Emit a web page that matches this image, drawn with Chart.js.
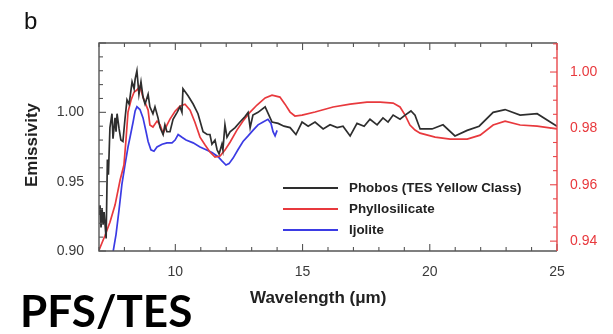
<!DOCTYPE html>
<html><head><meta charset="utf-8">
<script src="https://cdn.jsdelivr.net/npm/chart.js@4/dist/chart.umd.min.js"></script>
<style>
html,body{margin:0;padding:0;background:#fff;}
#wrap{position:relative;width:613px;height:334px;overflow:hidden;font-family:"Liberation Sans",Arial,sans-serif;}
#c{position:absolute;left:0;top:0;}
.t{position:absolute;white-space:nowrap;line-height:1;}
.sw{position:absolute;height:2px;}
</style></head><body>
<div id="wrap">
<canvas id="c" width="613" height="334"></canvas>
<div class="t" style="left:24px;top:9px;font-size:24px;color:#111;">b</div>
<div class="t" style="left:31px;top:145px;font-size:17px;font-weight:bold;color:#222;transform:translate(-50%,-50%) rotate(-90deg);">Emissivity</div>
<div class="t" style="left:250px;top:289px;font-size:17px;font-weight:bold;color:#222;">Wavelength (μm)</div>
<div class="t" style="left:20px;top:288px;font-size:44px;font-weight:bold;color:#000;font-family:Lato,'Open Sans',sans-serif;">PFS/TES</div>
<div id="legend"></div>
</div>
<script>
// ---- data ----
const phobosWl = [7.00,7.04,7.08,7.12,7.16,7.20,7.28,7.33,7.37,7.43,7.51,7.55,7.63,7.67,7.71,7.79,7.86,7.94,8.02,8.10,8.18,8.22,8.30,8.38,8.42,8.49,8.57,8.65,8.73,8.81,8.93,9.00,9.12,9.20,9.32,9.40,9.52,9.59,9.67,9.79,9.91,10.07,10.18,10.26,10.30,10.50,10.70,10.89,11.09,11.25,11.36,11.44,11.56,11.64,11.72,11.83,11.87,11.95,12.03,12.15,12.35,12.54,12.74,12.86,12.94,13.05,13.25,13.53,13.80,14.04,14.27,14.51,14.74,14.98,15.22,15.49,15.81,16.08,16.36,16.59,16.87,17.14,17.42,17.65,17.93,18.16,18.36,18.56,18.83,19.03,19.26,19.42,19.62,20.09,20.52,20.99,21.47,21.94,22.49,22.96,23.55,24.22,25.00];
const phobosEm = [0.926,0.933,0.917,0.931,0.919,0.928,0.909,0.966,0.955,0.989,0.999,0.981,0.996,0.986,0.999,0.988,0.980,0.979,0.995,1.009,1.006,1.011,1.022,1.017,1.024,1.030,1.013,1.022,1.011,1.006,1.013,1.004,0.999,1.004,0.996,0.989,0.984,0.991,0.986,0.986,0.995,1.000,1.004,1.000,1.017,1.012,1.006,0.999,0.986,0.984,0.984,0.977,0.980,0.973,0.970,0.977,0.973,0.991,0.982,0.986,0.989,0.993,0.997,1.000,0.989,0.998,1.000,1.004,0.993,0.992,0.990,0.989,0.984,0.993,0.990,0.993,0.988,0.991,0.989,0.990,0.983,0.992,0.990,0.995,0.991,0.996,0.993,0.998,0.995,0.998,1.001,0.998,0.988,0.988,0.991,0.983,0.987,0.990,1.000,1.002,0.998,0.999,0.990];

const phylloWl = [7.00,7.24,7.43,7.63,7.83,7.98,8.06,8.14,8.26,8.38,8.49,8.61,8.73,8.85,8.93,9.00,9.12,9.28,9.40,9.52,9.67,9.79,9.99,10.18,10.38,10.58,10.77,10.97,11.17,11.36,11.56,11.76,11.95,12.15,12.42,12.66,12.94,13.21,13.53,13.80,14.11,14.31,14.51,14.70,14.98,15.49,16.20,16.87,17.53,18.05,18.56,18.83,19.03,19.22,19.42,19.62,20.21,20.80,21.47,21.98,22.49,22.96,23.55,24.22,25.00];
const phylloEm = [0.9368,0.9421,0.9467,0.9528,0.9617,0.9670,0.9759,0.9858,0.9901,0.9929,0.9936,0.9950,0.9911,0.9883,0.9865,0.9812,0.9805,0.9826,0.9812,0.9783,0.9812,0.9833,0.9861,0.9879,0.9886,0.9865,0.9822,0.9769,0.9741,0.9716,0.9698,0.9702,0.9723,0.9751,0.9794,0.9826,0.9858,0.9883,0.9908,0.9918,0.9911,0.9886,0.9858,0.9844,0.9847,0.9858,0.9876,0.9886,0.9893,0.9893,0.9890,0.9876,0.9847,0.9812,0.9794,0.9783,0.9769,0.9762,0.9762,0.9776,0.9812,0.9826,0.9812,0.9808,0.9798];

const ijoliteWl = [7.55,7.67,7.79,7.90,8.02,8.14,8.22,8.34,8.42,8.49,8.61,8.73,8.85,8.93,9.04,9.16,9.28,9.48,9.67,9.87,9.99,10.11,10.26,10.42,10.70,10.97,11.21,11.44,11.68,11.83,11.99,12.11,12.27,12.46,12.66,12.86,13.05,13.25,13.45,13.64,13.76,13.84,13.92,14.00];
const ijoliteEm = [0.899,0.912,0.930,0.948,0.962,0.975,0.982,0.993,1.001,1.004,1.002,0.996,0.986,0.979,0.973,0.972,0.975,0.977,0.978,0.978,0.980,0.984,0.982,0.980,0.978,0.975,0.973,0.971,0.968,0.965,0.962,0.963,0.967,0.973,0.979,0.983,0.987,0.991,0.993,0.995,0.992,0.986,0.983,0.987];

const seriesLabels = ['Phobos (TES Yellow Class)', 'Phyllosilicate', 'Ijolite'];
const xTicks = [10, 15, 20, 25];
const leftTicks = [0.90, 0.95, 1.00];
const rightTicks = [0.94, 0.96, 0.98, 1.00];

// ---- styling ----
const BLACK = '#2e2e2e', RED = '#e8393d', BLUE = '#3b3be4', AXIS = '#555555', RAXIS = '#e8474a';

const pts = (xs, ys) => xs.map((x, i) => ({x: x, y: ys[i]}));

const frameTicks = {
  id: 'frameTicks',
  afterDatasetsDraw(chart) {
    const {ctx, chartArea: {left, right, top, bottom}, scales: {x, y, y2}} = chart;
    const seg = (x1, y1, x2, y2_) => { ctx.beginPath(); ctx.moveTo(x1, y1); ctx.lineTo(x2, y2_); ctx.stroke(); };
    ctx.save();
    ctx.lineWidth = 1.4;
    ctx.strokeStyle = AXIS;
    ctx.beginPath();
    ctx.moveTo(right, top); ctx.lineTo(left, top); ctx.lineTo(left, bottom); ctx.lineTo(right, bottom);
    ctx.stroke();
    ctx.lineWidth = 1.1;
    for (let v = 7; v <= 25; v++) {
      const px = x.getPixelForValue(v);
      const len = (v % 5 === 0) ? 7 : 4;
      seg(px, bottom, px, bottom - len);
      seg(px, top, px, top + len);
    }
    for (let i = 90; i <= 105; i++) {
      const py = y.getPixelForValue(i / 100);
      const len = (i % 5 === 0) ? 7 : 4;
      seg(left, py, left + len, py);
    }
    ctx.strokeStyle = RAXIS;
    ctx.lineWidth = 1.4;
    seg(right, top, right, bottom);
    ctx.lineWidth = 1.1;
    for (let k = 188; k <= 202; k++) {
      const py = y2.getPixelForValue(k * 0.005);
      if (py < top - 0.5 || py > bottom + 0.5) continue;
      const len = (k % 4 === 0) ? 7 : 4;
      seg(right, py, right - len, py);
    }
    ctx.restore();
  }
};

const chart = new Chart(document.getElementById('c'), {
  type: 'line',
  data: {
    datasets: [
      {label: seriesLabels[0], data: pts(phobosWl, phobosEm), borderColor: BLACK, yAxisID: 'y'},
      {label: seriesLabels[1], data: pts(phylloWl, phylloEm), borderColor: RED, yAxisID: 'y2'},
      {label: seriesLabels[2], data: pts(ijoliteWl, ijoliteEm), borderColor: BLUE, yAxisID: 'y'}
    ]
  },
  options: {
    responsive: false,
    animation: false,
    parsing: true,
    elements: {line: {borderWidth: 1.7, tension: 0, fill: false}, point: {radius: 0}},
    layout: {padding: {top: 43, left: 0, right: 0, bottom: 0}},
    plugins: {legend: {display: false}, tooltip: {enabled: false}},
    scales: {
      x: {
        type: 'linear', position: 'bottom', min: 7, max: 25,
        grid: {display: false, drawTicks: false}, border: {display: false},
        afterBuildTicks: s => { s.ticks = xTicks.map(v => ({value: v})); },
        afterFit: s => { s.height = 83; },
        ticks: {padding: 13, color: '#3a3a3a', font: {family: 'Liberation Sans', size: 14}, maxRotation: 0, autoSkip: false,
                callback: v => String(v)}
      },
      y: {
        type: 'linear', position: 'left', min: 0.90, max: 1.05,
        grid: {display: false, drawTicks: false}, border: {display: false},
        afterBuildTicks: s => { s.ticks = leftTicks.map(v => ({value: v})); },
        afterFit: s => { s.width = 99; },
        ticks: {padding: 15, color: '#3a3a3a', font: {family: 'Liberation Sans', size: 14}, autoSkip: false,
                callback: v => Number(v).toFixed(2)}
      },
      y2: {
        type: 'linear', position: 'right', min: 0.9365, max: 1.0103,
        grid: {display: false, drawTicks: false}, border: {display: false},
        afterBuildTicks: s => { s.ticks = rightTicks.map(v => ({value: v})); },
        afterFit: s => { s.width = 56; },
        ticks: {padding: 13, color: RED, font: {family: 'Liberation Sans', size: 14}, autoSkip: false,
                callback: v => Number(v).toFixed(2)}
      }
    }
  },
  plugins: [frameTicks]
});

// legend built from the datasets (real text)
const lg = document.getElementById('legend');
const legendTop = [188, 209, 230];
chart.data.datasets.forEach((ds, i) => {
  const sw = document.createElement('div');
  sw.className = 'sw';
  sw.style.cssText = `left:283px;top:${legendTop[i] - 1}px;width:55px;background:${ds.borderColor};`;
  lg.appendChild(sw);
  const t = document.createElement('div');
  t.className = 't';
  t.style.cssText = `left:349px;top:${legendTop[i] - 7}px;font-size:13.4px;font-weight:bold;color:#222;`;
  t.textContent = ds.label;
  lg.appendChild(t);
});
</script>
</body></html>
